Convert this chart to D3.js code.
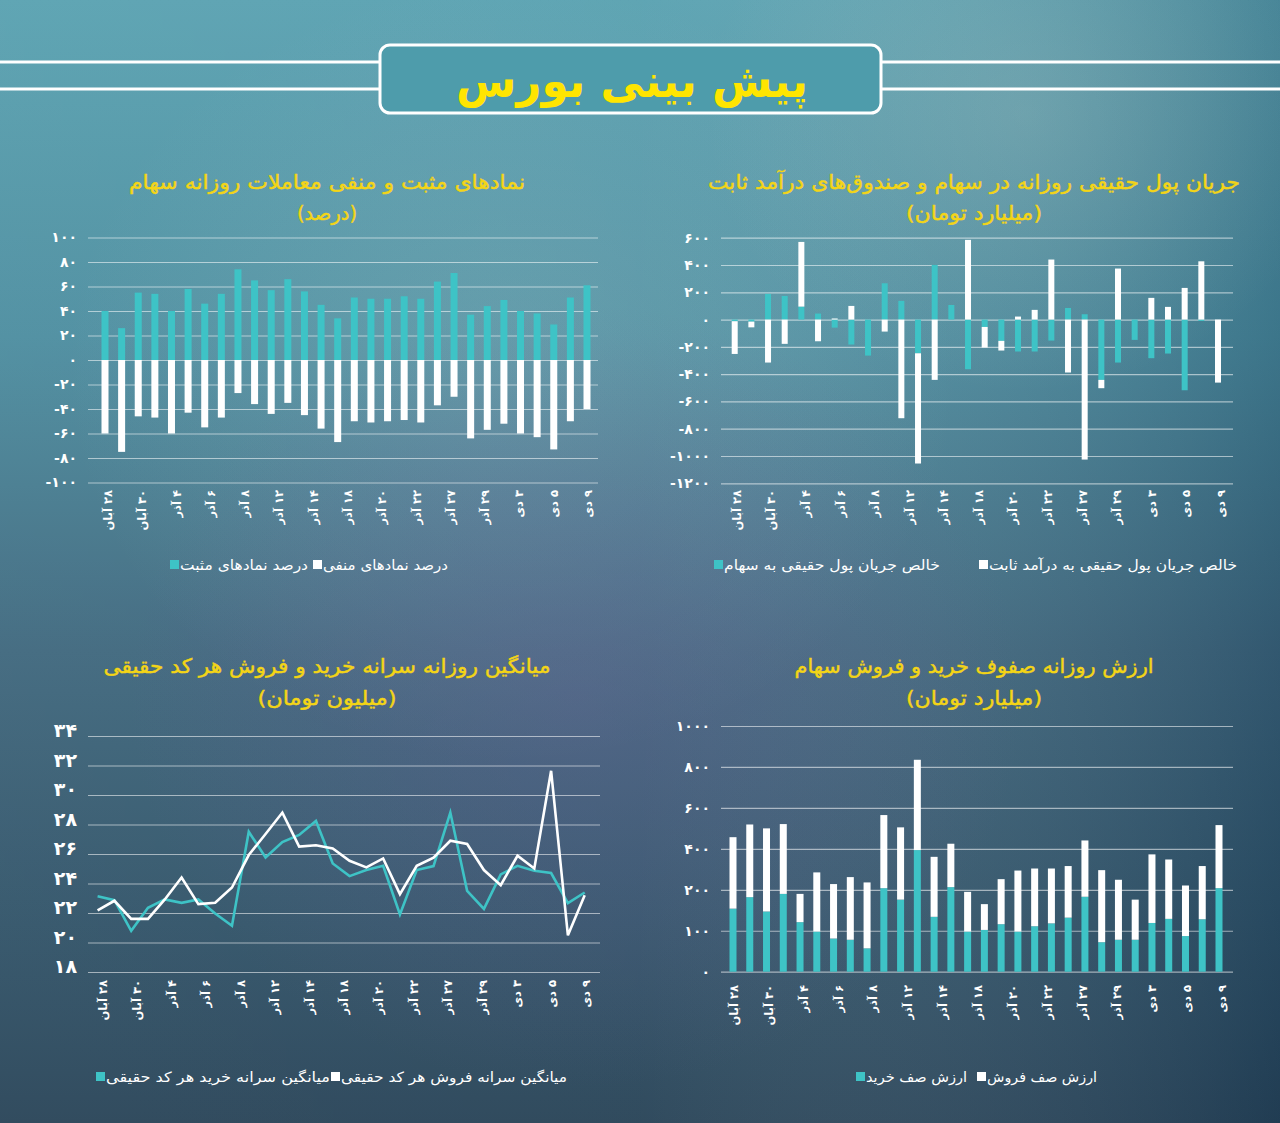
<!DOCTYPE html>
<html><head><meta charset="utf-8">
<script src="https://cdn.jsdelivr.net/npm/d3@7"></script>
<style>
html,body{margin:0;padding:0;background:#3f6a80;}
svg{display:block}
text{font-family:"DejaVu Sans",sans-serif;}
</style></head>
<body><svg id="c" width="1280" height="1123"></svg>
<script>
// ---------------- DATA ----------------
const dates = ["۲۸ آبان","۲۹ آبان","۳۰ آبان","۱ آذر","۴ آذر","۵ آذر","۶ آذر","۷ آذر","۸ آذر","۱۱ آذر",
  "۱۲ آذر","۱۳ آذر","۱۴ آذر","۱۵ آذر","۱۸ آذر","۱۹ آذر","۲۰ آذر","۲۱ آذر","۲۲ آذر","۲۵ آذر",
  "۲۶ آذر","۲۷ آذر","۲۸ آذر","۲۹ آذر","۲ دی","۳ دی","۴ دی","۵ دی","۶ دی","۹ دی"];
const tickDates = ["۲۸ آبان","۳۰ آبان","۴ آذر","۶ آذر","۸ آذر","۱۲ آذر","۱۴ آذر","۱۸ آذر","۲۰ آذر","۲۲ آذر","۲۷ آذر","۲۹ آذر","۳ دی","۵ دی","۹ دی"];

// positive / negative symbols (%)
const positivePct = [40,26,55,54,40,58,46,54,74,65,57,66,56,45,34,51,50,50,52,50,64,71,37,44,49,40,38,29,51,61];
const negativePct = [-60,-75,-46,-47,-60,-43,-55,-47,-27,-36,-44,-35,-45,-56,-67,-50,-51,-50,-49,-51,-37,-30,-64,-57,-52,-60,-63,-73,-50,-40];
const pctTicks = [100,80,60,40,20,0,-20,-40,-60,-80,-100];

// real money flow (billion toman)
const flowEquity = [-12,-15,188,173,95,44,-59,-183,-264,266,137,-247,400,107,-364,-54,-156,-234,-234,-154,85,39,-442,-315,-149,-283,-249,-518,-10,0];
const flowFixed  = [-240,-42,-315,-178,474,-159,8,100,0,-88,-723,-808,-442,0,584,-151,-71,22,71,440,-388,-1026,-61,374,0,159,93,232,427,-462];
const flowTicks = [600,400,200,0,-200,-400,-600,-800,-1000,-1200];

// average per-code buy / sell (million toman)
const avgBuy  = [23.14,22.87,20.79,22.35,22.92,22.69,22.92,21.96,21.13,27.51,25.77,26.81,27.29,28.24,25.36,24.5,24.91,25.2,21.9,24.91,25.18,28.81,23.5,22.28,24.62,25.2,24.86,24.71,22.67,23.39];
const avgSell = [22.17,22.83,21.6,21.6,22.92,24.41,22.6,22.69,23.73,25.93,27.36,28.81,26.5,26.59,26.38,25.54,25.09,25.7,23.28,25.2,25.75,26.9,26.68,24.91,23.89,25.88,25.02,31.64,20.49,23.21];
const avgTicks = [34,32,30,28,26,24,22,20,18];

// buy / sell queue value (billion toman)
const queueBuy  = [154,182,147,190,121,98,81,78,57,208,176,394,134,213,98,102,116,98,111,118,132,183,72,78,78,119,129,87,128,208];
const queueSell = [303,337,353,331,69,187,147,184,179,357,329,441,227,212,97,63,136,196,193,186,184,258,224,171,98,254,219,134,188,308];
const queueTicks = [0,100,200,400,600,800,1000];

// texts
const headerTitle = "پیش بینی بورس";
const titles = {
  tl:["نمادهای مثبت و منفی معاملات روزانه سهام","(درصد)"],
  tr:["جریان پول حقیقی روزانه در سهام و صندوق‌های درآمد ثابت","(میلیارد تومان)"],
  bl:["میانگین روزانه سرانه خرید و فروش هر کد حقیقی","(میلیون تومان)"],
  br:["ارزش روزانه صفوف خرید و فروش سهام","(میلیارد تومان)"]
};
const legends = {
  tl:["درصد نمادهای مثبت","درصد نمادهای منفی"],
  tr:["خالص جریان پول حقیقی به سهام","خالص جریان پول حقیقی به درآمد ثابت"],
  bl:["میانگین سرانه خرید هر کد حقیقی","میانگین سرانه فروش هر کد حقیقی"],
  br:["ارزش صف خرید","ارزش صف فروش"]
};

// ---------------- STYLE ----------------
const TEAL = "#3ec3c6", WHITE = "#ffffff", YELLOW = "#f4d516", GRID = "rgba(255,255,255,0.55)";
const fa = s => String(s).replace(/\d/g, d => "۰۱۲۳۴۵۶۷۸۹"[d]);

const svg = d3.select("#c");
const defs = svg.append("defs");

// background
const lg = defs.append("linearGradient").attr("id","bgv").attr("x1",0).attr("y1",0).attr("x2",0).attr("y2",1);
[[0,"#5aa2b1"],[0.3,"#4d8ea0"],[0.58,"#40687e"],[0.8,"#33566b"],[1,"#2a4559"]].forEach(([o,c])=>lg.append("stop").attr("offset",o).attr("stop-color",c));
const lh = defs.append("linearGradient").attr("id","bgh").attr("x1",0).attr("y1",0).attr("x2",1).attr("y2",0);
[[0,"rgba(255,255,255,0.04)"],[0.5,"rgba(255,255,255,0.03)"],[1,"rgba(0,30,60,0.22)"]].forEach(([o,c])=>lh.append("stop").attr("offset",o).attr("stop-color",c));
const rp = defs.append("radialGradient").attr("id","purp").attr("cx",0.45).attr("cy",0.62).attr("r",0.35);
rp.append("stop").attr("offset",0).attr("stop-color","rgba(105,95,150,0.35)");
rp.append("stop").attr("offset",1).attr("stop-color","rgba(105,95,150,0)");
const rl = defs.append("radialGradient").attr("id","light").attr("cx",0.4).attr("cy",0.33).attr("r",0.35);
rl.append("stop").attr("offset",0).attr("stop-color","rgba(190,210,210,0.18)");
rl.append("stop").attr("offset",1).attr("stop-color","rgba(190,210,210,0)");
const rl2 = defs.append("radialGradient").attr("id","light2").attr("cx",0.8).attr("cy",0.1).attr("r",0.25);
rl2.append("stop").attr("offset",0).attr("stop-color","rgba(200,210,200,0.2)");
rl2.append("stop").attr("offset",1).attr("stop-color","rgba(200,210,200,0)");

svg.append("rect").attr("width",1280).attr("height",1123).attr("fill","url(#bgv)");
svg.append("rect").attr("width",1280).attr("height",1123).attr("fill","url(#bgh)");
svg.append("rect").attr("width",1280).attr("height",1123).attr("fill","url(#light)");
svg.append("rect").attr("width",1280).attr("height",1123).attr("fill","url(#light2)");
svg.append("rect").attr("width",1280).attr("height",1123).attr("fill","url(#purp)");

// header
const hdr = svg.append("g");
[62,89].forEach(y=>{
  hdr.append("line").attr("x1",0).attr("x2",380).attr("y1",y).attr("y2",y).attr("stroke","#fff").attr("stroke-width",3);
  hdr.append("line").attr("x1",881).attr("x2",1280).attr("y1",y).attr("y2",y).attr("stroke","#fff").attr("stroke-width",3);
});
hdr.append("rect").attr("x",380).attr("y",45).attr("width",501).attr("height",68).attr("rx",10)
  .attr("fill","#4e9cab").attr("stroke","#fff").attr("stroke-width",3);
hdr.append("text").attr("x",632).attr("y",97).attr("text-anchor","middle")
  .attr("fill","#ffe500").style("font-size","46px").style("font-weight","bold")
  .attr("textLength",352).attr("lengthAdjust","spacingAndGlyphs").text(headerTitle);

// helpers
function band(domain, c0, c1, bw){
  const step = (c1-c0)/(domain.length-1);
  const pi = 1 - bw/step;
  return d3.scaleBand().domain(domain).range([c0-step/2, c1+step/2]).paddingInner(pi).paddingOuter(pi/2);
}
function title(pair, cx, y1, y2, w1, w2){
  svg.append("text").attr("x",cx).attr("y",y1).attr("text-anchor","middle").attr("fill",YELLOW)
    .attr("stroke",YELLOW).attr("stroke-width",0.45)
    .style("font-size","20px").attr("textLength",w1).attr("lengthAdjust","spacingAndGlyphs").text(pair[0]);
  svg.append("text").attr("x",cx).attr("y",y2).attr("text-anchor","middle").attr("fill",YELLOW)
    .attr("stroke",YELLOW).attr("stroke-width",0.45)
    .style("font-size","20px").attr("textLength",w2).attr("lengthAdjust","spacingAndGlyphs").text(pair[1]);
}
function yAxis(scale, ticks, x0, x1, fs){
  const g = svg.append("g").attr("transform",`translate(${x0},0)`)
    .call(d3.axisLeft(scale).tickValues(ticks).tickSize(-(x1-x0)).tickPadding(11).tickFormat(fa));
  g.select(".domain").remove();
  g.selectAll(".tick line").attr("stroke",GRID).attr("stroke-width",1.2);
  g.selectAll(".tick text").attr("fill","#fff").style("font-size",fs+"px").style("font-weight","bold")
    .style("font-family","'DejaVu Sans',sans-serif");
  return g;
}
// category-axis labels: a point scale over the tick labels, spanning first..last category
function xLabels(a, b, y){
  const lx = d3.scalePoint().domain(tickDates).range([a, b]);
  svg.append("g").selectAll("text").data(tickDates).join("text")
    .attr("transform", d=>`translate(${lx(d)},${y}) rotate(-90)`)
    .attr("direction","rtl").attr("text-anchor","start").attr("dy","0.35em").attr("fill","#fff")
    .style("font-size","11.5px").style("font-weight","bold").text(d=>d);
}
function legend(items, y){
  const g = svg.append("g");
  items.forEach(([lab,col,sx,w])=>{
    g.append("rect").attr("x",sx).attr("y",y-5).attr("width",9).attr("height",9).attr("fill",col);
    g.append("text").attr("x",sx+10).attr("y",y+4.5).attr("fill","#fff").style("font-size","14px")
      .attr("textLength",w).attr("lengthAdjust","spacingAndGlyphs").text(lab);
  });
}
const mid = (x, d) => x(d) + x.bandwidth()/2;

// ---------------- TOP-LEFT ----------------
title(titles.tl, 327, 189, 220, 396, 60);
const yTL = d3.scaleLinear().domain([-100,100]).range([482.5,237.5]);
yAxis(yTL, pctTicks, 88, 598, 14);
const xTL = band(dates, 105, 587, 7);
const gTL = svg.append("g");
gTL.selectAll(".p").data(dates).join("rect").attr("x",d=>xTL(d)).attr("width",xTL.bandwidth())
  .attr("y",(d,i)=>yTL(positivePct[i])).attr("height",(d,i)=>yTL(0)-yTL(positivePct[i])).attr("fill",TEAL);
gTL.selectAll(".n").data(dates).join("rect").attr("x",d=>xTL(d)).attr("width",xTL.bandwidth())
  .attr("y",yTL(0)).attr("height",(d,i)=>yTL(negativePct[i])-yTL(0)).attr("fill",WHITE);
xLabels(mid(xTL,dates[0])+3, mid(xTL,dates[29])+1, 490);
legend([[legends.tl[0],TEAL,170,128],[legends.tl[1],WHITE,313,125]], 565);

// ---------------- TOP-RIGHT ----------------
title(titles.tr, 974, 189, 220, 532, 136);
const yTR = d3.scaleLinear().domain([-1200,600]).range([483.3,237.7]);
yAxis(yTR, flowTicks, 721, 1233, 14);
const xTR = band(dates, 734.7, 1218, 6);
const flowRows = dates.map((d,i)=>({date:d, equity:flowEquity[i], fixed:flowFixed[i]}));
const flowStack = d3.stack().keys(["equity","fixed"]).offset(d3.stackOffsetDiverging)(flowRows);
svg.append("g").selectAll("g").data(flowStack).join("g").attr("fill",s=>s.key==="equity"?TEAL:WHITE)
  .selectAll("rect").data(s=>s).join("rect")
  .attr("x",d=>xTR(d.data.date)).attr("width",xTR.bandwidth())
  .attr("y",d=>yTR(Math.max(d[0],d[1]))).attr("height",d=>Math.abs(yTR(d[0])-yTR(d[1])));
xLabels(mid(xTR,dates[0])+2, mid(xTR,dates[29])+3, 490);
legend([[legends.tr[0],TEAL,714,216],[legends.tr[1],WHITE,979,248]], 565);

// ---------------- BOTTOM-LEFT ----------------
title(titles.bl, 327, 673, 705, 447, 139);
const yBL = d3.scaleLinear().domain([18,34]).range([972,736]);
const gBL = yAxis(yBL, avgTicks, 88, 600, 19);
gBL.selectAll(".tick text").attr("dy","0.05em");
const xBL = d3.scalePoint().domain(dates).range([97.6,584.7]);
const line = d3.line().x((d,i)=>xBL(dates[i])).y(d=>yBL(d));
svg.append("path").datum(avgBuy).attr("d",line).attr("fill","none").attr("stroke",TEAL).attr("stroke-width",2.6).attr("stroke-linejoin","miter");
svg.append("path").datum(avgSell).attr("d",line).attr("fill","none").attr("stroke",WHITE).attr("stroke-width",2.6).attr("stroke-linejoin","miter");
xLabels(xBL(dates[0])+5, xBL(dates[29])+1.5, 980);
legend([[legends.bl[0],TEAL,96,224],[legends.bl[1],WHITE,331,226]], 1077);

// ---------------- BOTTOM-RIGHT ----------------
title(titles.br, 974, 673, 705, 359, 136);
const yBR = d3.scaleLinear().domain(queueTicks).range(queueTicks.map((t,i)=>971.7 - i*(971.7-726)/6));
yAxis(yBR, queueTicks, 721, 1233, 14);
const xBR = band(dates, 733, 1219, 7);
const qRows = dates.map((d,i)=>({date:d, buy:queueBuy[i], sell:queueSell[i]}));
const qStack = d3.stack().keys(["buy","sell"])(qRows);
svg.append("g").selectAll("g").data(qStack).join("g").attr("fill",s=>s.key==="buy"?TEAL:WHITE)
  .selectAll("rect").data(s=>s).join("rect")
  .attr("x",d=>xBR(d.data.date)).attr("width",xBR.bandwidth())
  .attr("y",d=>yBR(d[1])).attr("height",d=>yBR(d[0])-yBR(d[1]));
xLabels(mid(xBR,dates[0])+1, mid(xBR,dates[29])+3, 985);
legend([[legends.br[0],TEAL,856,101],[legends.br[1],WHITE,977,110]], 1077);
</script>
</body></html>
